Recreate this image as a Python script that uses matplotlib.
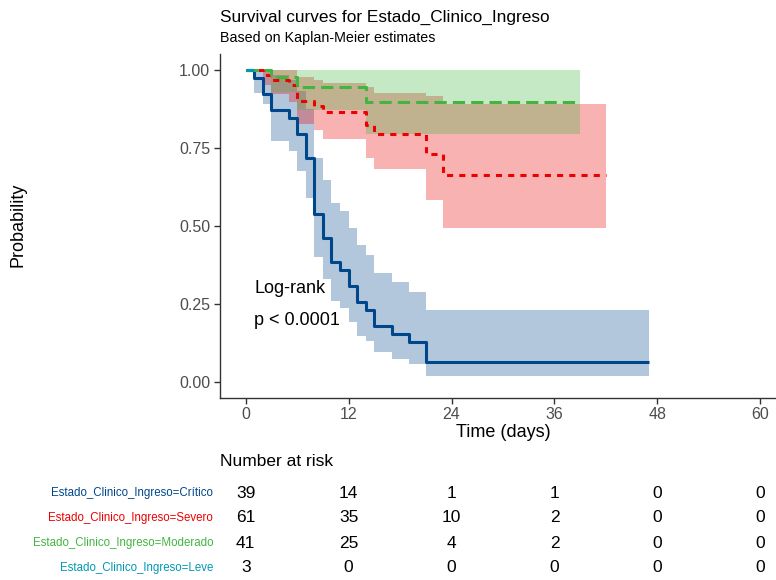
import matplotlib
matplotlib.use("Agg")
import matplotlib.pyplot as plt
from matplotlib.transforms import blended_transform_factory

plt.rcParams['font.family'] = ['Liberation Sans', 'DejaVu Sans']

# Kaplan-Meier steps per stratum: event times, survival, lower/upper 95% CI
crit_t = [0, 1, 2, 3, 5, 6, 7, 8, 9, 10, 11, 12, 13, 14, 15, 17, 19, 21]
crit_s = [1, 0.974, 0.923, 0.872, 0.846, 0.795, 0.718, 0.538, 0.462, 0.385,
          0.359, 0.308, 0.256, 0.231, 0.179, 0.154, 0.128, 0.064]
crit_lo = [1, 0.925, 0.89, 0.773, 0.74, 0.677, 0.59, 0.40, 0.33, 0.259,
           0.236, 0.192, 0.149, 0.131, 0.095, 0.074, 0.057, 0.02]
crit_hi = [1, 1, 1, 0.984, 0.967, 0.933, 0.874, 0.717, 0.648, 0.573,
           0.547, 0.493, 0.44, 0.408, 0.349, 0.32, 0.29, 0.23]
crit_end = 47

sev_t = [0, 2, 3, 5, 6, 8, 9, 14, 15, 21, 23]
sev_s = [1, 0.984, 0.967, 0.951, 0.902, 0.885, 0.865, 0.824, 0.795, 0.73, 0.664]
sev_lo = [1, 0.952, 0.923, 0.897, 0.828, 0.808, 0.78, 0.718, 0.683, 0.582, 0.495]
sev_hi = [1, 1, 1, 1, 0.978, 0.968, 0.957, 0.945, 0.925, 0.917, 0.891]
sev_end = 42

mod_t = [0, 3, 6, 14]
mod_s = [1, 0.976, 0.946, 0.899]
mod_lo = [1, 0.929, 0.872, 0.794]
mod_hi = [1, 1, 1, 1]
mod_end = 39

lev_t = [0]
lev_s = [1]
lev_lo = [1]
lev_hi = [1]
lev_end = 1

strata = ["Crítico", "Severo", "Moderado", "Leve"]
colors = ["#00468B", "#ED0000", "#42B540", "#0099B4"]

# Number at risk table
risk_times = [0, 12, 24, 36, 48, 60]
risk_crit = [39, 14, 1, 1, 0, 0]
risk_sev = [61, 35, 10, 2, 0, 0]
risk_mod = [41, 25, 4, 2, 0, 0]
risk_lev = [3, 0, 0, 0, 0, 0]

W, H = 776, 580
fig = plt.figure(figsize=(W / 100, H / 100), dpi=100)
ax = fig.add_axes([220 / W, (H - 397.6) / H, (786 - 220) / W, (397.6 - 54.4) / H])

curves = [
    (crit_t, crit_s, crit_lo, crit_hi, crit_end),
    (sev_t, sev_s, sev_lo, sev_hi, sev_end),
    (mod_t, mod_s, mod_lo, mod_hi, mod_end),
    (lev_t, lev_s, lev_lo, lev_hi, lev_end),
]
dashes = [None, (2, 2), (4, 2), (4, 4)]

def extend(t, v, end):
    return list(t) + [end], list(v) + [v[-1]]

for (t, s, lo, hi, end), col in zip(curves, colors):
    tx, lox = extend(t, lo, end)
    _, hix = extend(t, hi, end)
    ax.fill_between(tx, lox, hix, step="post", color=col, alpha=0.3, lw=0)

for (t, s, lo, hi, end), col, dsh in zip(curves, colors, dashes):
    tx, sx = extend(t, s, end)
    line, = ax.plot(tx, sx, drawstyle="steps-post", color=col, lw=2.2,
                    solid_capstyle="butt", dash_capstyle="butt")
    if dsh is not None:
        line.set_dashes(dsh)

ax.set_xlim(-3, 63)
ax.set_ylim(-0.05, 1.05)
ax.set_xticks(risk_times)
ax.set_yticks([0, 0.25, 0.5, 0.75, 1.0])
ax.set_yticklabels(["0.00", "0.25", "0.50", "0.75", "1.00"])
for side in ["top", "right"]:
    ax.spines[side].set_visible(False)
for side in ["left", "bottom"]:
    ax.spines[side].set_color("#333333")
    ax.spines[side].set_linewidth(1.0)
ax.tick_params(axis="both", colors="#333333", length=4, width=1.0,
               labelsize=11.5, labelcolor="#4D4D4D", pad=3)

ax.set_xlabel("Time (days)", fontsize=13, labelpad=1)
fig.text(18 / W, 1 - 225 / H, "Probability", rotation=90, fontsize=13,
         ha="center", va="center")

ax.text(1, 0.30, "Log-rank", fontsize=13, ha="left", va="center")
ax.text(1, 0.197, "p < 0.0001", fontsize=13, ha="left", va="center")

fig.text(220 / W, 1 - 17 / H, "Survival curves for Estado_Clinico_Ingreso",
         fontsize=12.4, ha="left", va="center")
fig.text(220 / W, 1 - 38 / H, "Based on Kaplan-Meier estimates",
         fontsize=10.3, ha="left", va="center")

# Risk table below the plot
fig.text(220 / W, 1 - 461 / H, "Number at risk", fontsize=12.5,
         ha="left", va="center")
trans = blended_transform_factory(ax.transData, fig.transFigure)
rows = [risk_crit, risk_sev, risk_mod, risk_lev]
row_y = [493, 518, 543, 568]
for name, col, vals, y in zip(strata, colors, rows, row_y):
    fig.text(213 / W, 1 - y / H, "Estado_Clinico_Ingreso=" + name,
             fontsize=8.3, color=col, ha="right", va="center")
    for tt, v in zip(risk_times, vals):
        ax.text(tt, 1 - y / H, str(v), transform=trans, fontsize=12.5,
                ha="center", va="center", clip_on=False)

fig.savefig("out.png", dpi=100)
